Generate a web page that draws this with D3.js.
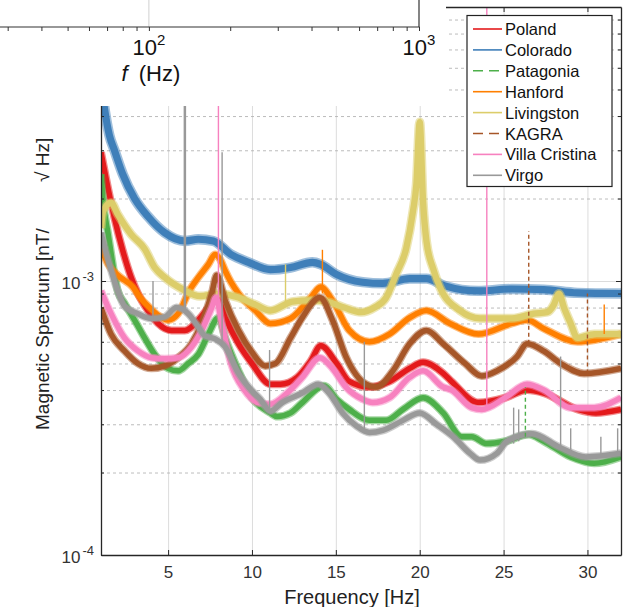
<!DOCTYPE html>
<html>
<head>
<meta charset="utf-8">
<script src="https://cdn.jsdelivr.net/npm/d3@7"></script>
<style>
  body { margin: 0; background: #fff; }
  svg { display: block; }
  text { font-family: "Liberation Sans", Arial, sans-serif; }
</style>
</head>
<body>
<svg id="chart" width="634" height="607"></svg>
<script>
// ---- data (frequency Hz, spectrum nT/sqrt(Hz)) ----
var seriesNames = ["Poland", "Colorado", "Patagonia", "Hanford", "Livingston", "KAGRA", "Villa Cristina", "Virgo"];
var seriesColors = ["#e41a1c", "#3f7fb9", "#4daf4a", "#ff7f00", "#dccd6a", "#a65628", "#f781bf", "#999999"];
var seriesDashed = [false, false, true, false, false, true, false, false];

var poland = [[1.0,2.95e-3],[1.3,2.37e-3],[1.8,1.7e-3],[2.3,1.29e-3],[2.8,1.03e-3],[3.2,0.9e-3],[3.8,0.78e-3],[4.4,0.7e-3],[5.2,0.66e-3],[6.0,0.66e-3],[6.8,0.72e-3],[7.4,0.8e-3],[7.9,0.87e-3],[8.4,0.735e-3],[9.2,0.59e-3],[10.0,0.5e-3],[11.1,0.42e-3],[11.7,0.42e-3],[12.7,0.445e-3],[13.5,0.51e-3],[14.1,0.58e-3],[15.05,0.5e-3],[15.8,0.43e-3],[17.0,0.41e-3],[18.2,0.43e-3],[19.4,0.48e-3],[20.2,0.505e-3],[21.4,0.46e-3],[21.9,0.43e-3],[23.5,0.36e-3],[25.1,0.375e-3],[26.4,0.4e-3],[27.4,0.39e-3],[29.4,0.34e-3],[30.5,0.33e-3],[32,0.34e-3]];
var colorado = [[1.0,5.3e-3],[1.2,4.3e-3],[1.5,3.4e-3],[1.8,3.0e-3],[2.3,2.45e-3],[3.0,2.0e-3],[3.8,1.72e-3],[4.8,1.5e-3],[6.0,1.4e-3],[6.8,1.42e-3],[7.7,1.4e-3],[8.75,1.25e-3],[9.8,1.17e-3],[11.1,1.1e-3],[12.3,1.12e-3],[13.6,1.17e-3],[14.1,1.15e-3],[15.0,1.06e-3],[16.6,0.99e-3],[17.8,0.98e-3],[19.4,1.02e-3],[20.4,1.02e-3],[21.5,0.96e-3],[23.5,0.92e-3],[25.5,0.935e-3],[27.4,0.93e-3],[29.4,0.905e-3],[32,0.9e-3]];
var patagonia = [[1.0,2.45e-3],[1.13,1.95e-3],[1.43,1.48e-3],[1.8,1.06e-3],[2.0,0.92e-3],[2.4,0.83e-3],[3.0,0.72e-3],[3.6,0.62e-3],[4.2,0.54e-3],[5.0,0.48e-3],[5.6,0.47e-3],[6.2,0.5e-3],[6.8,0.54e-3],[7.4,0.64e-3],[8.0,0.735e-3],[8.4,0.62e-3],[9.2,0.47e-3],[10.0,0.375e-3],[11.1,0.33e-3],[11.5,0.32e-3],[12.3,0.33e-3],[13.0,0.36e-3],[14.3,0.415e-3],[15.05,0.37e-3],[15.8,0.34e-3],[17.0,0.31e-3],[18.0,0.31e-3],[19.0,0.34e-3],[20.2,0.375e-3],[21.4,0.33e-3],[22.5,0.27e-3],[23.1,0.27e-3],[24.0,0.255e-3],[25.1,0.26e-3],[26.5,0.275e-3],[27.4,0.26e-3],[29.0,0.228e-3],[30.4,0.216e-3],[32,0.228e-3]];
var hanford = [[1.0,1.32e-3],[1.43,1.15e-3],[2.0,1.05e-3],[2.9,0.95e-3],[3.4,0.86e-3],[3.9,0.8e-3],[4.4,0.75e-3],[5.0,0.72e-3],[5.6,0.76e-3],[6.3,0.93e-3],[6.8,1.03e-3],[7.4,1.15e-3],[7.8,1.25e-3],[8.1,1.2e-3],[8.4,1.09e-3],[8.75,0.99e-3],[9.2,0.9e-3],[10.2,0.78e-3],[11.1,0.7e-3],[12.3,0.73e-3],[13.5,0.87e-3],[14.1,0.95e-3],[14.8,0.85e-3],[15.8,0.66e-3],[17.0,0.6e-3],[18.2,0.64e-3],[19.4,0.735e-3],[20.4,0.78e-3],[21.8,0.7e-3],[23.5,0.64e-3],[25.5,0.7e-3],[26.4,0.72e-3],[27.4,0.67e-3],[29.4,0.6e-3],[32,0.64e-3]];
var livingston = [[1.0,1.56e-3],[1.13,1.8e-3],[1.6,1.93e-3],[2.0,1.75e-3],[2.8,1.48e-3],[3.6,1.31e-3],[4.2,1.12e-3],[4.8,1.03e-3],[5.9,0.93e-3],[6.9,0.88e-3],[8.0,0.9e-3],[9.2,0.87e-3],[10.2,0.82e-3],[11.1,0.78e-3],[12.4,0.84e-3],[13.5,0.85e-3],[14.5,0.84e-3],[15.5,0.8e-3],[16.5,0.77e-3],[17.3,0.8e-3],[18.0,0.87e-3],[18.6,1.06e-3],[19.2,1.32e-3],[19.6,1.8e-3],[19.8,2.25e-3],[20.0,3.8e-3],[20.2,1.95e-3],[20.4,1.4e-3],[20.8,1.11e-3],[21.2,0.95e-3],[22.4,0.78e-3],[23.6,0.73e-3],[25.5,0.73e-3],[26.8,0.76e-3],[27.6,0.77e-3],[28.0,0.82e-3],[28.3,0.9e-3],[28.6,0.8e-3],[29.0,0.7e-3],[29.4,0.62e-3],[30.4,0.64e-3],[32,0.64e-3]];
var kagra = [[1.0,0.8e-3],[1.6,0.64e-3],[2.4,0.556e-3],[3.2,0.5e-3],[4.0,0.48e-3],[4.8,0.49e-3],[5.6,0.525e-3],[6.4,0.59e-3],[7.0,0.7e-3],[7.6,0.9e-3],[7.9,1.05e-3],[8.4,0.85e-3],[9.2,0.66e-3],[10.0,0.55e-3],[10.8,0.49e-3],[11.4,0.5e-3],[12.3,0.62e-3],[13.0,0.735e-3],[14.05,0.87e-3],[14.8,0.72e-3],[15.6,0.53e-3],[16.8,0.42e-3],[17.4,0.41e-3],[18.4,0.47e-3],[19.4,0.59e-3],[20.4,0.66e-3],[21.4,0.59e-3],[22.7,0.5e-3],[23.7,0.45e-3],[24.6,0.47e-3],[25.8,0.53e-3],[26.4,0.59e-3],[27.4,0.555e-3],[28.4,0.5e-3],[29.8,0.46e-3],[32,0.48e-3]];
var villaCristina = [[1.0,0.92e-3],[1.6,0.76e-3],[2.4,0.62e-3],[3.2,0.556e-3],[4.0,0.525e-3],[4.8,0.52e-3],[5.6,0.525e-3],[6.4,0.575e-3],[7.0,0.66e-3],[7.6,0.8e-3],[7.85,0.87e-3],[8.2,0.7e-3],[8.75,0.5e-3],[9.55,0.4e-3],[10.35,0.36e-3],[11.1,0.355e-3],[12.1,0.39e-3],[13.0,0.445e-3],[14.05,0.525e-3],[14.8,0.48e-3],[15.6,0.41e-3],[16.6,0.37e-3],[17.2,0.36e-3],[18.2,0.375e-3],[19.4,0.445e-3],[20.2,0.47e-3],[21.4,0.41e-3],[21.9,0.4e-3],[23.1,0.345e-3],[23.7,0.34e-3],[25.1,0.375e-3],[26.4,0.42e-3],[27.4,0.4e-3],[29.0,0.345e-3],[30.4,0.345e-3],[32,0.375e-3]];
var virgo = [[1.0,1.5e-3],[1.5,1.15e-3],[2.0,0.92e-3],[2.4,0.81e-3],[3.2,0.76e-3],[4.0,0.73e-3],[4.8,0.74e-3],[5.5,0.8e-3],[6.2,0.76e-3],[6.8,0.68e-3],[7.2,0.63e-3],[7.8,0.615e-3],[8.4,0.575e-3],[9.2,0.46e-3],[9.8,0.41e-3],[10.5,0.37e-3],[11.1,0.335e-3],[11.8,0.36e-3],[13.0,0.39e-3],[13.95,0.42e-3],[14.6,0.39e-3],[15.4,0.33e-3],[16.25,0.295e-3],[17.0,0.28e-3],[17.8,0.285e-3],[19.0,0.31e-3],[20.0,0.33e-3],[21.0,0.3e-3],[22.0,0.27e-3],[23.0,0.235e-3],[23.6,0.222e-3],[24.6,0.235e-3],[25.2,0.26e-3],[26.7,0.277e-3],[28.3,0.248e-3],[29.9,0.228e-3],[32,0.235e-3]];
var seriesValues = [poland, colorado, patagonia, hanford, livingston, kagra, villaCristina, virgo];

// narrow lines sticking out of the spectra: [series, f, bottom, top]
var spikes = [
  ["Hanford", 14.2, 0.9e-3, 1.3e-3],
  ["Hanford", 31.0, 0.64e-3, 0.82e-3],
  ["Livingston", 12.0, 0.82e-3, 1.15e-3],
  ["KAGRA", 26.5, 0.59e-3, 1.52e-3],
  ["KAGRA", 30.0, 0.46e-3, 0.9e-3],
  ["Patagonia", 26.3, 0.27e-3, 0.41e-3],
  ["Villa Cristina", 8.0, 0.8e-3, 1e-2],
  ["Villa Cristina", 24.0, 0.34e-3, 1e-2],
  ["Virgo", 4.1, 0.73e-3, 1.0e-3],
  ["Virgo", 6.0, 0.77e-3, 1e-2],
  ["Virgo", 8.22, 0.58e-3, 2.95e-3],
  ["Virgo", 11.05, 0.34e-3, 0.56e-3],
  ["Virgo", 16.7, 0.29e-3, 0.6e-3],
  ["Virgo", 25.6, 0.255e-3, 0.345e-3],
  ["Virgo", 25.9, 0.26e-3, 0.34e-3],
  ["Virgo", 28.4, 0.25e-3, 0.53e-3],
  ["Virgo", 29.0, 0.24e-3, 0.29e-3],
  ["Virgo", 30.8, 0.23e-3, 0.27e-3],
  ["Virgo", 31.8, 0.235e-3, 0.29e-3]
];

var xTicks = [5, 10, 15, 20, 25, 30];
var yMajor = [1e-4, 1e-3, 1e-2];
var yMinor = [2e-4, 3e-4, 4e-4, 5e-4, 6e-4, 7e-4, 8e-4, 9e-4, 2e-3, 3e-3, 4e-3, 5e-3, 6e-3, 7e-3, 8e-3, 9e-3];
var yLabels = [1e-4, 1e-3];

// the partly hidden panel above (log frequency axis)
var topTicks = [30, 40, 50, 60, 70, 80, 90, 100, 200, 300, 400, 500, 600, 700, 800, 900, 1000];
var topLabels = [100, 1000];

function draw() {
  var pL = 101, pR = 621, pT = 7, pB = 555;
  var axisColor = "#262626";

  var svg = d3.select("#chart");
  svg.append("rect").attr("width", 634).attr("height", 607).attr("fill", "#fff");

  var x = d3.scaleLinear().domain([1, 32]).range([pL, pR]);
  var y = d3.scaleLog().domain([1e-4, 1e-2]).range([pB, pT]);

  svg.append("clipPath").attr("id", "plotclip")
    .append("rect").attr("x", pL).attr("y", pT).attr("width", pR - pL).attr("height", pB - pT);

  // grid
  var gx = svg.append("g").attr("transform", "translate(0," + pB + ")")
    .call(d3.axisBottom(x).tickValues(xTicks).tickSize(-(pB - pT)).tickFormat(""));
  gx.select(".domain").remove();
  gx.selectAll("text").remove();
  gx.selectAll("line").attr("stroke", "#dcdcdc").attr("stroke-width", 1);

  var gyMinor = svg.append("g").attr("transform", "translate(" + pL + ",0)")
    .call(d3.axisLeft(y).tickValues(yMinor).tickSize(-(pR - pL)).tickFormat(""));
  gyMinor.select(".domain").remove();
  gyMinor.selectAll("text").remove();
  gyMinor.selectAll("line").attr("stroke", "#b4b4b4").attr("stroke-width", 0.9).attr("stroke-dasharray", "3,3");

  var gyMajor = svg.append("g").attr("transform", "translate(" + pL + ",0)")
    .call(d3.axisLeft(y).tickValues([1e-3]).tickSize(-(pR - pL)).tickFormat(""));
  gyMajor.select(".domain").remove();
  gyMajor.selectAll("text").remove();
  gyMajor.selectAll("line").attr("stroke", "#dcdcdc").attr("stroke-width", 1);

  // spectra
  var line = d3.line()
    .x(function(d) { return x(d[0]); })
    .y(function(d) { return y(d[1]); })
    .curve(d3.curveMonotoneX);

  var plot = svg.append("g").attr("clip-path", "url(#plotclip)");
  seriesNames.forEach(function(name, i) {
    var w = name == "Colorado" ? 1.3 : (name == "Livingston" ? 1.15 : 1);
    plot.append("path").attr("d", line(seriesValues[i]))
      .attr("fill", "none").attr("stroke", seriesColors[i])
      .attr("stroke-width", 8 * w).attr("stroke-opacity", 0.5).attr("stroke-linejoin", "round");
    plot.append("path").attr("d", line(seriesValues[i]))
      .attr("fill", "none").attr("stroke", seriesColors[i])
      .attr("stroke-width", 5.5 * w).attr("stroke-linejoin", "round");
  });

  spikes.forEach(function(s) {
    var i = seriesNames.indexOf(s[0]);
    plot.append("line")
      .attr("x1", x(s[1])).attr("x2", x(s[1]))
      .attr("y1", y(s[2])).attr("y2", y(s[3]))
      .attr("stroke", seriesColors[i])
      .attr("stroke-width", s[0] == "Virgo" && s[1] == 6.0 ? 2.5 : 1.4)
      .attr("stroke-dasharray", seriesDashed[i] ? "4,3" : null);
  });

  // axes (ticks point inward, box all round)
  function styleAxis(g) {
    g.selectAll("line").attr("stroke", axisColor);
    g.select(".domain").attr("stroke", axisColor).attr("stroke-width", 1.3);
    g.selectAll("text").attr("fill", "#333").attr("font-size", "17px")
      .attr("font-family", "'Liberation Sans', Arial, sans-serif");
  }

  var xb = svg.append("g").attr("transform", "translate(0," + pB + ")")
    .call(d3.axisBottom(x).tickValues(xTicks).tickSize(-5).tickSizeOuter(0).tickPadding(11));
  styleAxis(xb);

  var xt = svg.append("g").attr("transform", "translate(0," + pT + ")")
    .call(d3.axisTop(x).tickValues(xTicks).tickSize(-5).tickSizeOuter(0).tickFormat(""));
  styleAxis(xt);
  xt.selectAll("text").remove();

  [[pL, d3.axisLeft], [pR, d3.axisRight]].forEach(function(a) {
    var gm = svg.append("g").attr("transform", "translate(" + a[0] + ",0)")
      .call(a[1](y).tickValues(yMajor).tickSize(-5).tickSizeOuter(0).tickFormat(""));
    styleAxis(gm);
    gm.selectAll("text").remove();
    var gn = svg.append("g").attr("transform", "translate(" + a[0] + ",0)")
      .call(a[1](y).tickValues(yMinor).tickSize(-3).tickSizeOuter(0).tickFormat(""));
    styleAxis(gn);
    gn.select(".domain").remove();
    gn.selectAll("text").remove();
  });

  // y tick labels as 10^n
  yLabels.forEach(function(v) {
    var t = svg.append("text").attr("x", 94).attr("y", y(v) + 8)
      .attr("text-anchor", "end").attr("fill", "#333").attr("font-size", "17px");
    t.append("tspan").text("10");
    t.append("tspan").attr("dx", 2).attr("dy", -8).attr("font-size", "13px").text(String(Math.round(Math.log10(v))));
  });

  // axis titles
  svg.append("text").attr("x", 352).attr("y", 604).attr("text-anchor", "middle")
    .attr("font-size", "20px").attr("fill", "#222").text("Frequency [Hz]");
  svg.append("text").attr("transform", "translate(49,430) rotate(-90)")
    .attr("text-anchor", "start").attr("font-size", "19px").attr("fill", "#222")
    .text("Magnetic Spectrum [nT/");
  svg.append("text").attr("transform", "translate(49,182) rotate(-90)")
    .attr("text-anchor", "start").attr("font-size", "19px").attr("fill", "#222")
    .text("\u221A Hz]");

  // the neighbouring panel overlapping the top-left corner
  svg.append("rect").attr("x", 0).attr("y", 0).attr("width", 446).attr("height", 106).attr("fill", "#fff");

  var xf = d3.scaleLog().domain([28.1, 1000]).range([0, 419]);
  svg.append("line").attr("x1", xf(100)).attr("x2", xf(100)).attr("y1", 0).attr("y2", 27)
    .attr("stroke", "#d0d0d0").attr("stroke-width", 1);
  var gf = svg.append("g").attr("transform", "translate(0,27)")
    .call(d3.axisBottom(xf).tickValues(topTicks).tickSize(4).tickSizeOuter(0).tickFormat(""));
  gf.select(".domain").remove();
  gf.selectAll("text").remove();
  gf.selectAll("line").attr("stroke", "#333");
  svg.append("line").attr("x1", 0).attr("x2", 419.5).attr("y1", 27).attr("y2", 27).attr("stroke", "#333").attr("stroke-width", 1.2);
  svg.append("line").attr("x1", 419).attr("x2", 419).attr("y1", 0).attr("y2", 27).attr("stroke", "#333").attr("stroke-width", 1.2);

  topLabels.forEach(function(v) {
    var t = svg.append("text").attr("x", xf(v)).attr("y", 55).attr("text-anchor", "middle")
      .attr("font-family", "'Liberation Serif', 'DejaVu Serif', serif").attr("font-size", "22px").attr("fill", "#111");
    t.append("tspan").text("10");
    t.append("tspan").attr("dy", -10).attr("font-size", "15px").text(String(Math.round(Math.log10(v))));
  });
  var fl = svg.append("text").attr("x", xf(100) + 2).attr("y", 81).attr("text-anchor", "middle")
    .attr("font-family", "'Liberation Serif', 'DejaVu Serif', serif").attr("font-size", "22px").attr("fill", "#111");
  fl.append("tspan").attr("font-style", "italic").text("f");
  fl.append("tspan").text("\u2002(Hz)");

  // legend
  var lg = svg.append("g");
  lg.append("rect").attr("x", 467).attr("y", 15.5).attr("width", 145).attr("height", 171)
    .attr("fill", "#fff").attr("stroke", "#222").attr("stroke-width", 1.2);
  seriesNames.forEach(function(name, i) {
    var yy = 29 + i * 20.9;
    lg.append("line").attr("x1", 473).attr("x2", 502).attr("y1", yy).attr("y2", yy)
      .attr("stroke", seriesColors[i]).attr("stroke-width", 1.6)
      .attr("stroke-dasharray", seriesDashed[i] ? "10,6" : null);
    lg.append("text").attr("x", 505).attr("y", yy + 6).attr("font-size", "16.5px").attr("fill", "#111").text(name);
  });
}

draw();
</script>
</body>
</html>
